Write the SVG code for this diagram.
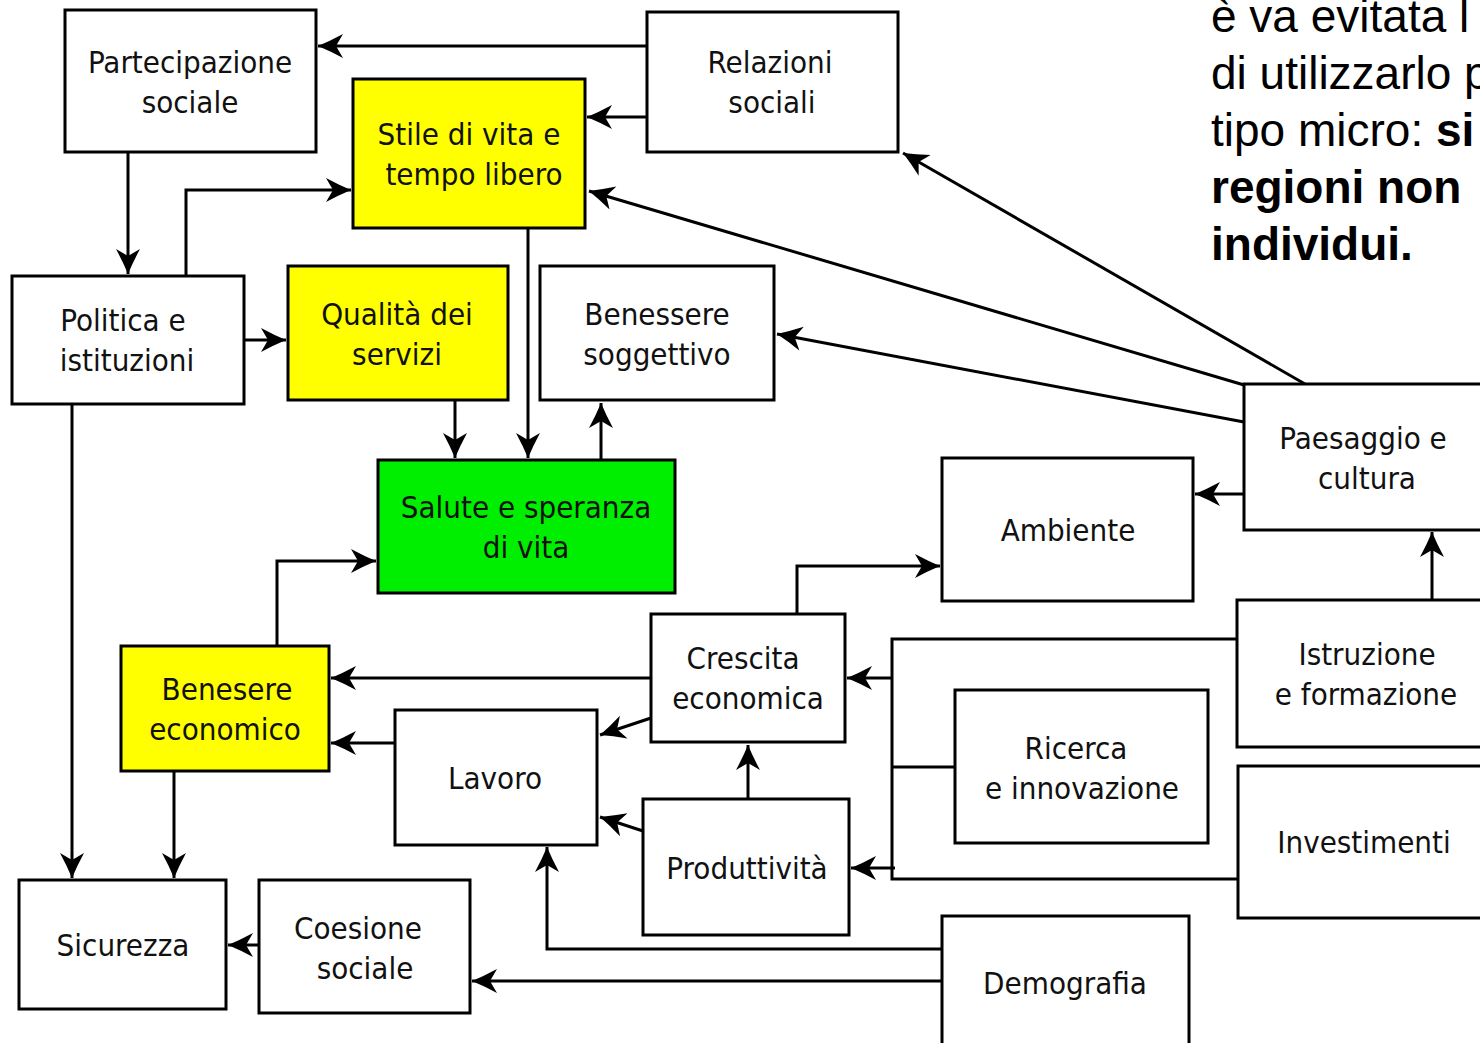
<svg xmlns="http://www.w3.org/2000/svg" width="1480" height="1043" viewBox="0 0 1480 1043">
<style>
.box{fill:#fff;stroke:#000;stroke-width:3}
.y{fill:#ffff00}
.g{fill:#00ee00}
.t{font-family:"DejaVu Sans Condensed","DejaVu Sans",sans-serif;font-size:31px;fill:#111;text-anchor:middle}
.c{fill:none;stroke:#000;stroke-width:3;marker-end:url(#ah)}
.n{fill:none;stroke:#000;stroke-width:3}
.note{font-family:"Liberation Sans",Arial,sans-serif;font-size:46px;fill:#000}
</style>
<defs>
<marker id="ah" markerUnits="userSpaceOnUse" markerWidth="30" markerHeight="30" viewBox="-27 -14 30 28" refX="0" refY="0" orient="auto">
<path d="M0,0 Q-12,-5 -25,-12 L-18,0 L-25,12 Q-12,5 0,0 Z" fill="#000"/>
</marker>
</defs>
<rect width="1480" height="1043" fill="#fff"/>
<g id="note">
<text class="note" x="1211" y="32">è va evitata l</text>
<text class="note" x="1211" y="89">di utilizzarlo p</text>
<text class="note" x="1211" y="146">tipo micro: <tspan font-weight="bold">si</tspan></text>
<text class="note" x="1211" y="203" font-weight="bold">regioni non</text>
<text class="note" x="1211" y="260" font-weight="bold">individui.</text>
</g>
<g id="connectors">
<path class="c" d="M647,46 H318"/>
<path class="c" d="M647,117 H587"/>
<path class="c" d="M128,152 V274"/>
<path class="c" d="M186,276 V190 H351"/>
<path class="c" d="M244,340 H286"/>
<path class="c" d="M72,404 V878"/>
<path class="c" d="M528,228 V458"/>
<path class="c" d="M455,400 V458"/>
<path class="c" d="M601,460 V403"/>
<path class="c" d="M1305,384 L903,153"/>
<path class="c" d="M1244,385 L589,191"/>
<path class="c" d="M1244,422 L777,334"/>
<path class="c" d="M1244,494 H1195"/>
<path class="c" d="M1432,600 V532"/>
<path class="c" d="M797,614 V566 H940"/>
<path class="c" d="M651,678 H331"/>
<path class="c" d="M651,718 L600,735"/>
<path class="c" d="M748,799 V745"/>
<path class="c" d="M643,831 L600,817"/>
<path class="c" d="M395,743 H331"/>
<path class="c" d="M277,646 V561 H376"/>
<path class="c" d="M174,771 V878"/>
<path class="c" d="M259,945 H228"/>
<path class="c" d="M942,981 H472"/>
<path class="c" d="M942,949 H547 V847"/>
<path class="n" d="M1237,639 H892 V879 H1238"/>
<path class="n" d="M955,767 H892"/>
<path class="c" d="M892,678 H847"/>
<path class="c" d="M895,868 H851"/>
</g>
<g id="partecipazione"><rect class="box" x="65" y="10" width="251" height="142"/><text class="t" x="190" y="73">Partecipazione</text><text class="t" x="190" y="113">sociale</text></g>
<g id="relazioni"><rect class="box" x="647" y="12" width="251" height="140"/><text class="t" x="770" y="73">Relazioni</text><text class="t" x="772" y="113">sociali</text></g>
<g id="stile"><rect class="box y" x="353" y="79" width="232" height="149"/><text class="t" x="469" y="145">Stile di vita e</text><text class="t" x="474" y="185">tempo libero</text></g>
<g id="politica"><rect class="box" x="12" y="276" width="232" height="128"/><text class="t" x="123" y="331">Politica e</text><text class="t" x="127" y="371">istituzioni</text></g>
<g id="qualita"><rect class="box y" x="288" y="266" width="220" height="134"/><text class="t" x="397" y="325">Qualità dei</text><text class="t" x="397" y="365">servizi</text></g>
<g id="benessere-soggettivo"><rect class="box" x="540" y="266" width="234" height="134"/><text class="t" x="657" y="325">Benessere</text><text class="t" x="657" y="365">soggettivo</text></g>
<g id="salute"><rect class="box g" x="378" y="460" width="297" height="133"/><text class="t" x="526" y="518">Salute e speranza</text><text class="t" x="526" y="558">di vita</text></g>
<g id="paesaggio"><rect class="box" x="1244" y="384" width="250" height="146"/><text class="t" x="1363" y="449">Paesaggio e</text><text class="t" x="1367" y="489">cultura</text></g>
<g id="ambiente"><rect class="box" x="942" y="458" width="251" height="143"/><text class="t" x="1068" y="541">Ambiente</text></g>
<g id="crescita"><rect class="box" x="651" y="614" width="194" height="128"/><text class="t" x="743" y="669">Crescita</text><text class="t" x="748" y="709">economica</text></g>
<g id="istruzione"><rect class="box" x="1237" y="600" width="260" height="147"/><text class="t" x="1367" y="665">Istruzione</text><text class="t" x="1366" y="705">e formazione</text></g>
<g id="benesere-economico"><rect class="box y" x="121" y="646" width="208" height="125"/><text class="t" x="227" y="700">Benesere</text><text class="t" x="225" y="740">economico</text></g>
<g id="lavoro"><rect class="box" x="395" y="710" width="202" height="135"/><text class="t" x="495" y="789">Lavoro</text></g>
<g id="ricerca"><rect class="box" x="955" y="690" width="253" height="153"/><text class="t" x="1076" y="759">Ricerca</text><text class="t" x="1082" y="799">e innovazione</text></g>
<g id="investimenti"><rect class="box" x="1238" y="766" width="260" height="152"/><text class="t" x="1364" y="853">Investimenti</text></g>
<g id="produttivita"><rect class="box" x="643" y="799" width="206" height="136"/><text class="t" x="747" y="879">Produttività</text></g>
<g id="sicurezza"><rect class="box" x="19" y="880" width="207" height="129"/><text class="t" x="123" y="956">Sicurezza</text></g>
<g id="coesione"><rect class="box" x="259" y="880" width="211" height="133"/><text class="t" x="358" y="939">Coesione</text><text class="t" x="365" y="979">sociale</text></g>
<g id="demografia"><rect class="box" x="942" y="916" width="247" height="140"/><text class="t" x="1065" y="994">Demografia</text></g>
</svg>
